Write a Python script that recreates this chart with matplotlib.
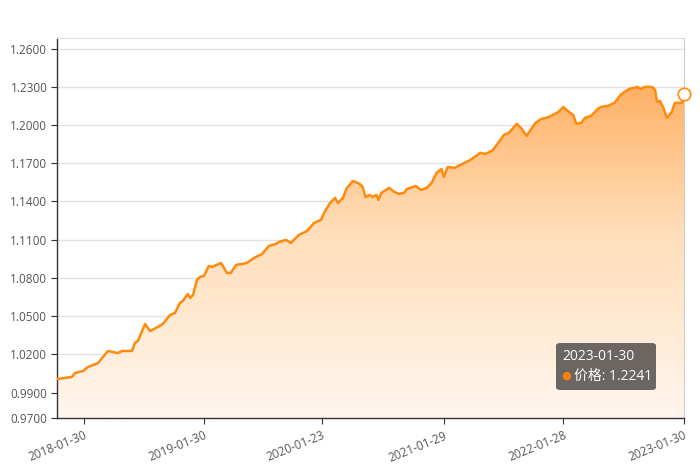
import numpy as np
import pandas as pd
import matplotlib
matplotlib.use('Agg')
import matplotlib.pyplot as plt
import matplotlib.dates as mdates
from matplotlib.patches import FancyBboxPatch
from matplotlib.colors import LinearSegmentedColormap

plt.rcParams['font.family'] = ['Open Sans', 'Noto Sans CJK SC', 'DejaVu Sans']

# values (price curve)
dates = ['2017-11-09', '2017-12-24', '2018-01-03', '2018-01-27', '2018-02-11', '2018-03-14',
         '2018-04-13', '2018-04-28', '2018-05-13', '2018-05-26', '2018-06-25', '2018-07-04',
         '2018-07-13', '2018-08-04', '2018-08-19', '2018-09-12', '2018-09-27', '2018-10-19',
         '2018-11-03', '2018-11-18', '2018-11-27', '2018-12-12', '2018-12-19', '2018-12-28',
         '2019-01-09', '2019-01-18', '2019-01-30', '2019-02-14', '2019-02-24', '2019-03-23',
         '2019-04-10', '2019-04-22', '2019-05-08', '2019-05-26', '2019-06-10', '2019-07-01',
         '2019-07-26', '2019-08-16', '2019-09-06', '2019-09-15', '2019-10-07', '2019-10-22',
         '2019-11-06', '2019-11-15', '2019-12-10', '2019-12-31', '2020-01-21', '2020-02-03',
         '2020-02-18', '2020-03-04', '2020-03-13', '2020-03-28', '2020-04-09', '2020-04-18',
         '2020-04-27', '2020-05-18', '2020-05-27', '2020-06-05', '2020-06-17', '2020-06-26',
         '2020-07-08', '2020-07-14', '2020-07-23', '2020-08-16', '2020-08-31', '2020-09-15',
         '2020-09-30', '2020-10-09', '2020-11-05', '2020-11-20', '2020-12-08', '2020-12-23',
         '2021-01-07', '2021-01-22', '2021-01-29', '2021-02-10', '2021-03-03', '2021-03-27',
         '2021-04-20', '2021-05-20', '2021-06-04', '2021-06-25', '2021-07-16', '2021-07-31',
         '2021-08-15', '2021-09-08', '2021-09-23', '2021-10-08', '2021-11-04', '2021-11-22',
         '2021-12-07', '2021-12-22', '2022-01-13', '2022-01-28', '2022-02-03', '2022-02-18',
         '2022-02-27', '2022-03-08', '2022-03-23', '2022-04-04', '2022-04-22', '2022-05-13',
         '2022-05-22', '2022-06-12', '2022-07-03', '2022-07-21', '2022-08-02', '2022-08-17',
         '2022-09-01', '2022-09-10', '2022-09-19', '2022-10-04', '2022-10-25', '2022-11-03',
         '2022-11-09', '2022-11-18', '2022-11-27', '2022-12-09', '2022-12-24', '2023-01-02',
         '2023-01-24', '2023-01-30']
price = [1.0006, 1.0022, 1.0053, 1.0069, 1.0100, 1.0132,
         1.0226, 1.0218, 1.0210, 1.0226, 1.0226, 1.0289,
         1.0305, 1.0438, 1.0383, 1.0415, 1.0438, 1.0509,
         1.0525, 1.0603, 1.0619, 1.0674, 1.0642, 1.0666,
         1.0784, 1.0807, 1.0815, 1.0894, 1.0886, 1.0917,
         1.0839, 1.0839, 1.0902, 1.0909, 1.0917, 1.0956,
         1.0988, 1.1051, 1.1066, 1.1082, 1.1098, 1.1074,
         1.1114, 1.1137, 1.1168, 1.1231, 1.1255, 1.1326,
         1.1388, 1.1428, 1.1388, 1.1428, 1.1506, 1.1530,
         1.1561, 1.1538, 1.1514, 1.1435, 1.1451, 1.1435,
         1.1451, 1.1412, 1.1467, 1.1506, 1.1475, 1.1459,
         1.1467, 1.1498, 1.1522, 1.1490, 1.1506, 1.1545,
         1.1624, 1.1655, 1.1593, 1.1671, 1.1663, 1.1695,
         1.1726, 1.1781, 1.1773, 1.1797, 1.1867, 1.1922,
         1.1938, 1.2009, 1.1970, 1.1915, 1.2017, 1.2048,
         1.2056, 1.2072, 1.2103, 1.2142, 1.2127, 1.2095,
         1.2079, 1.2009, 1.2017, 1.2056, 1.2072, 1.2127,
         1.2142, 1.2150, 1.2174, 1.2237, 1.2260, 1.2284,
         1.2292, 1.2299, 1.2284, 1.2299, 1.2299, 1.2276,
         1.2182, 1.2189, 1.2142, 1.2056, 1.2103, 1.2174,
         1.2174, 1.2241]

tick_dates = ['2018-01-30', '2019-01-30', '2020-01-23', '2021-01-29', '2022-01-28', '2023-01-30']
y_ticks = [0.97, 0.99, 1.02, 1.05, 1.08, 1.11, 1.14, 1.17, 1.20, 1.23, 1.26]
y_min, y_max = 0.97, 1.2683

x = pd.to_datetime(dates)
xn = mdates.date2num(x)
y = np.array(price)

fig = plt.figure(figsize=(7, 4.72), dpi=100)
ax = fig.add_axes([57/700, 54/472, 627/700, 380/472])

line_color = '#FF8A0C'

# gradient fill under the line, clipped to the area below the curve
grad = np.linspace(0, 1, 256).reshape(-1, 1)
cmap = LinearSegmentedColormap.from_list('g', ['#FFF6EE', '#FFDDB8', '#FFA24A'])
img = ax.imshow(grad, cmap=cmap, aspect='auto', origin='lower',
                extent=[xn[0], xn[-1], y_min, y_max], zorder=1)
clip = plt.Polygon(np.column_stack([np.r_[xn, xn[::-1]], np.r_[y, np.full(len(y), y_min)]]),
                   transform=ax.transData, facecolor='none', edgecolor='none')
ax.add_patch(clip)
img.set_clip_path(clip)

ax.plot(xn, y, color=line_color, lw=1.8, zorder=3, solid_joinstyle='round')
ax.plot(xn[-1], y[-1], 'o', ms=9, mfc='white', mec=line_color, mew=1.2, zorder=4, clip_on=False)

ax.set_xlim(xn[0], xn[-1])
ax.set_ylim(y_min, y_max)

ax.set_yticks(y_ticks)
ax.set_yticklabels(['%.4f' % v for v in y_ticks], color='#555555', fontsize=8.5)
ax.yaxis.grid(True, color='#E3E3E3', lw=1, zorder=0)
ax.set_axisbelow(True)

tx = mdates.date2num(pd.to_datetime(tick_dates))
ax.set_xticks(tx)
ax.set_xticklabels(tick_dates, rotation=22, ha='right', rotation_mode='anchor',
                   color='#555555', fontsize=8.5)
ax.tick_params(axis='x', length=4, color='#333333', pad=4)
ax.tick_params(axis='y', length=4, color='#333333', pad=3)

for s in ['left', 'bottom']:
    ax.spines[s].set_color('#333333')
    ax.spines[s].set_linewidth(1)
ax.spines['top'].set_color('#DDDDDD')
ax.spines['right'].set_color('#CCCCCC')

# tooltip
box = FancyBboxPatch((556/700, (472-390)/472), 100/700, 47/472,
                     boxstyle='round,pad=0,rounding_size=0.006', transform=fig.transFigure,
                     facecolor='#6B6662', edgecolor='none', zorder=10)
fig.patches.append(box)
fig.text(562/700, (472-356)/472, '2023-01-30', color='white', fontsize=10,
         va='center', ha='left', zorder=11)
fig.text(566/700, (472-376)/472, '●', color='#FF7F0E', fontsize=8,
         va='center', ha='center', zorder=11, family='DejaVu Sans')
fig.text(574/700, (472-376)/472, '价格: 1.2241', color='white', fontsize=10,
         va='center', ha='left', zorder=11, weight='medium')

fig.savefig('out.png', dpi=100)
plt.close('all')
